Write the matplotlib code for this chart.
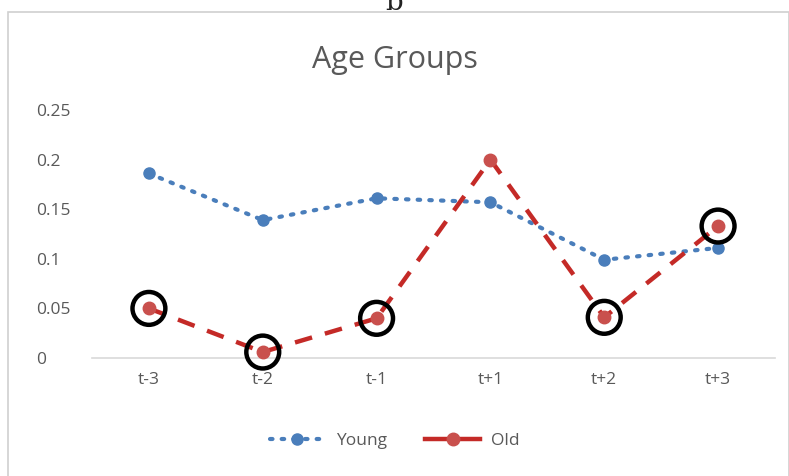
import matplotlib.pyplot as plt
from matplotlib.patches import Rectangle
from matplotlib.lines import Line2D

periods = ['t-3', 't-2', 't-1', 't+1', 't+2', 't+3']
young = [0.186, 0.139, 0.161, 0.157, 0.099, 0.111]
old = [0.050, 0.006, 0.040, 0.200, 0.041, 0.133]
# periods of the Old series that get a highlight ring
ringed = [0, 1, 2, 4, 5]
yticks = [0, 0.05, 0.1, 0.15, 0.2, 0.25]
ytick_labels = ['0', '0.05', '0.1', '0.15', '0.2', '0.25']

plt.rcParams['font.family'] = ['Open Sans', 'DejaVu Sans']

blue = '#4a7ebb'
red_marker = '#c9504d'
red_line = '#c42a27'
grey_text = '#595959'

fig = plt.figure(figsize=(7.89, 4.76), dpi=100)

# chart frame
fig.patches.append(Rectangle((8 / 789, -0.01), 0.99, 1 - 12 / 476 + 0.01,
                             transform=fig.transFigure, fill=False,
                             edgecolor='#d0d0d0', linewidth=1.2))
fig.text(0.5, 1 - 10 / 476, 'b', ha='center', va='baseline',
         fontsize=20, family='DejaVu Serif', color='#222222')

ax = fig.add_axes([92 / 789, 118 / 476, 683 / 789, 248 / 476])
x = list(range(len(periods)))

ax.plot(x, young, linestyle=(0, (0.6, 2.2)), color=blue, linewidth=3,
        dash_capstyle='round', marker='o', markersize=8, zorder=3)
ax.plot(x, old, linestyle=(0, (4, 3)), color=red_line, linewidth=3.2,
        marker='o', markersize=9, markerfacecolor=red_marker,
        markeredgecolor=red_marker, zorder=4)
ax.scatter([x[i] for i in ringed], [old[i] for i in ringed], s=560,
           facecolors='none', edgecolors='black', linewidths=3.2, zorder=5)

ax.set_xlim(-0.5, len(periods) - 0.5)
ax.set_ylim(0, 0.25)
ax.set_xticks(x)
ax.set_xticklabels(periods)
ax.set_yticks(yticks)
ax.set_yticklabels(ytick_labels)
ax.tick_params(length=0, labelsize=12.5, labelcolor=grey_text, pad=10)
ax.tick_params(axis='y', pad=40)
for lbl in ax.get_yticklabels():
    lbl.set_horizontalalignment('left')
for side in ['top', 'right', 'left']:
    ax.spines[side].set_visible(False)
ax.spines['bottom'].set_color('#d9d9d9')
ax.spines['bottom'].set_linewidth(1.2)
for artist in ax.lines + ax.collections:
    artist.set_clip_on(False)

fig.text(0.5, 1 - 60 / 476, 'Age Groups', ha='center', va='center',
         fontsize=22, color=grey_text)

handles = [
    Line2D([], [], linestyle=(0, (0.6, 2.2)), color=blue, linewidth=3,
           dash_capstyle='round', marker='o', markersize=8),
    Line2D([], [], linestyle='-', color=red_line, linewidth=3.2, marker='o',
           markersize=9, markerfacecolor=red_marker, markeredgecolor=red_marker),
]
fig.legend(handles, ['Young', 'Old'], loc='center', bbox_to_anchor=(0.5, 1 - 441 / 476),
           ncol=2, frameon=False, fontsize=12.5, labelcolor=grey_text,
           handlelength=3.2, columnspacing=2.2, handletextpad=0.6)

fig.savefig('out.png', dpi=100)
